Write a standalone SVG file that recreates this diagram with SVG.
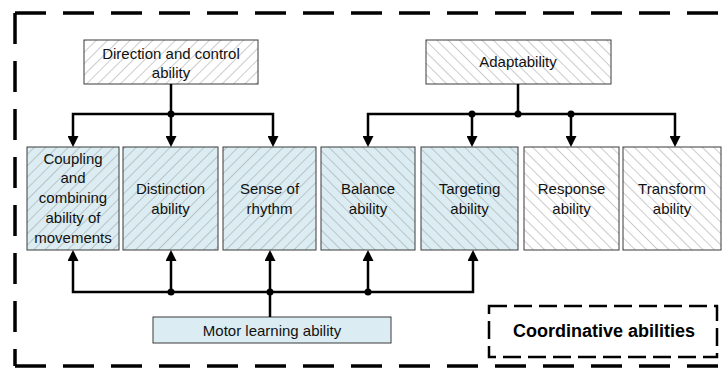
<svg xmlns="http://www.w3.org/2000/svg" width="726" height="369" viewBox="0 0 726 369">
<style>
.t{font-family:"Liberation Sans",Arial,sans-serif;font-size:15px;fill:#111;text-anchor:middle}
.tb{font-family:"Liberation Sans",Arial,sans-serif;font-size:18px;font-weight:bold;fill:#000;text-anchor:middle}
.box{stroke:#3a3a3a;stroke-width:1}
.hl{stroke:#9a9a9a;stroke-width:1}
.con{fill:none;stroke:#000;stroke-width:2.5;stroke-linejoin:miter}
.dot{fill:#000}
.frame{fill:none;stroke:#000;stroke-width:3.5;stroke-dasharray:31 17}
.inner{fill:none;stroke:#000;stroke-width:2.5;stroke-dasharray:18 7}
</style>
<defs>
<pattern id="wf" width="8" height="8" patternUnits="userSpaceOnUse" patternTransform="rotate(45)">
<rect width="8" height="8" fill="#fff"/><line class="hl" x1="0" y1="0" x2="0" y2="8"/></pattern>
<pattern id="wb" width="8" height="8" patternUnits="userSpaceOnUse" patternTransform="rotate(-45)">
<rect width="8" height="8" fill="#fff"/><line class="hl" x1="0" y1="0" x2="0" y2="8"/></pattern>
<pattern id="bf" width="8" height="8" patternUnits="userSpaceOnUse" patternTransform="rotate(45)">
<rect width="8" height="8" fill="#dbedf3"/><line class="hl" x1="0" y1="0" x2="0" y2="8"/></pattern>
<pattern id="bb" width="8" height="8" patternUnits="userSpaceOnUse" patternTransform="rotate(-45)">
<rect width="8" height="8" fill="#dbedf3"/><line class="hl" x1="0" y1="0" x2="0" y2="8"/></pattern>
<marker id="ar" viewBox="0 0 10 10" markerUnits="userSpaceOnUse" markerWidth="11" markerHeight="11" refX="7.3" refY="5" orient="auto-start-reverse">
<path d="M0,0 L10,5 L0,10 z" fill="#000"/></marker>
</defs>

<g id="frame">
<path class="frame" d="M15,13 H735"/>
<path class="frame" d="M15,13 V366"/>
<path class="frame" d="M15,366 H735"/>
</g>

<g id="direction">
<rect class="box" x="84" y="40" width="174" height="44" fill="url(#wf)"/>
<text class="t" x="171" y="58.5">Direction and control</text>
<text class="t" x="171" y="77.5">ability</text>
</g>
<g id="adaptability">
<rect class="box" x="426" y="40" width="185" height="44" fill="url(#wb)"/>
<text class="t" x="518" y="67">Adaptability</text>
</g>

<g id="coupling">
<rect class="box" x="27" y="147" width="92" height="103" fill="url(#bf)"/>
<text class="t" x="73" y="163.5">Coupling</text>
<text class="t" x="73" y="183.3">and</text>
<text class="t" x="73" y="203">combining</text>
<text class="t" x="73" y="222.8">ability of</text>
<text class="t" x="73" y="242.6">movements</text>
</g>
<g id="distinction">
<rect class="box" x="123" y="147" width="95" height="103" fill="url(#bf)"/>
<text class="t" x="170.5" y="194">Distinction</text>
<text class="t" x="170.5" y="213.5">ability</text>
</g>
<g id="rhythm">
<rect class="box" x="223" y="147" width="93" height="103" fill="url(#bf)"/>
<text class="t" x="269.5" y="194">Sense of</text>
<text class="t" x="269.5" y="213.5">rhythm</text>
</g>
<g id="balance">
<rect class="box" x="321" y="147" width="94" height="103" fill="url(#bb)"/>
<text class="t" x="368" y="194">Balance</text>
<text class="t" x="368" y="213.5">ability</text>
</g>
<g id="targeting">
<rect class="box" x="421" y="147" width="97" height="103" fill="url(#bb)"/>
<text class="t" x="469.5" y="194">Targeting</text>
<text class="t" x="469.5" y="213.5">ability</text>
</g>
<g id="response">
<rect class="box" x="524" y="147" width="95" height="103" fill="url(#wb)"/>
<text class="t" x="571.5" y="194">Response</text>
<text class="t" x="571.5" y="213.5">ability</text>
</g>
<g id="transform">
<rect class="box" x="623" y="147" width="98" height="103" fill="url(#wb)"/>
<text class="t" x="672" y="194">Transform</text>
<text class="t" x="672" y="213.5">ability</text>
</g>

<g id="motor">
<rect class="box" x="153" y="317" width="238" height="26" fill="#dbedf3"/>
<text class="t" x="272" y="336">Motor learning ability</text>
</g>

<g id="legend">
<rect class="inner" x="489" y="306" width="228" height="51"/>
<text class="tb" x="604" y="337">Coordinative abilities</text>
</g>

<g id="connectors">
<path class="con" d="M171,84 V114"/>
<path class="con" d="M73,144 V114 H273 V144" marker-start="url(#ar)" marker-end="url(#ar)"/>
<path class="con" d="M171,114 V144" marker-end="url(#ar)"/>
<circle class="dot" cx="171" cy="114" r="3.5"/>

<path class="con" d="M518,84 V114"/>
<path class="con" d="M368,144 V114 H675 V144" marker-start="url(#ar)" marker-end="url(#ar)"/>
<path class="con" d="M472,114 V144" marker-end="url(#ar)"/>
<path class="con" d="M571,114 V144" marker-end="url(#ar)"/>
<circle class="dot" cx="472" cy="114" r="3.5"/>
<circle class="dot" cx="518" cy="114" r="3.5"/>
<circle class="dot" cx="571" cy="114" r="3.5"/>

<path class="con" d="M270,317 V292"/>
<path class="con" d="M73,253 V292 H473 V253" marker-start="url(#ar)" marker-end="url(#ar)"/>
<path class="con" d="M171,292 V253" marker-end="url(#ar)"/>
<path class="con" d="M270,292 V253" marker-end="url(#ar)"/>
<path class="con" d="M368,292 V253" marker-end="url(#ar)"/>
<circle class="dot" cx="171" cy="292" r="3.5"/>
<circle class="dot" cx="270" cy="292" r="3.5"/>
<circle class="dot" cx="368" cy="292" r="3.5"/>
</g>
</svg>
